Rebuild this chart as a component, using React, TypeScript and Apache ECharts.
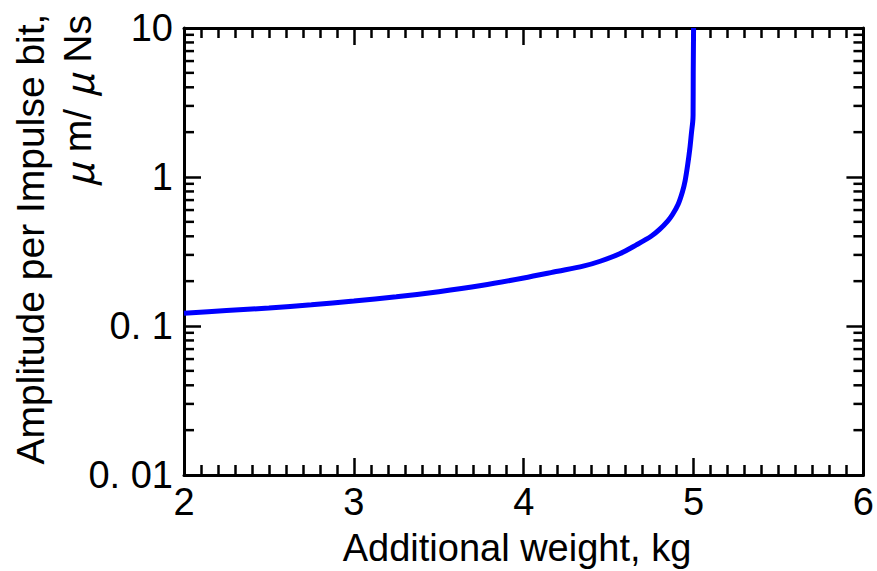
import React, { useEffect, useRef } from "react";
import * as echarts from "echarts";

const weights = [2.0, 2.25, 2.5, 2.75, 3.0, 3.25, 3.5, 3.75, 4.0, 4.2, 4.35, 4.45, 4.565, 4.663, 4.75, 4.8, 4.85, 4.876, 4.91, 4.935, 4.95, 4.965, 4.978, 4.988, 4.995, 4.997, 4.998, 5.0];
const amplitudes = [0.122, 0.127, 0.132, 0.139, 0.147, 0.157, 0.17, 0.187, 0.21, 0.233, 0.252, 0.272, 0.305, 0.35, 0.4, 0.445, 0.51, 0.56, 0.66, 0.8, 0.94, 1.2, 1.55, 2.0, 2.35, 2.6, 5, 10];
const yTickLabels: Record<string, string> = { "0.01": "0. 01", "0.1": "0. 1", "1": "1", "10": "10" };
const yMinorTicks = [0.02, 0.03, 0.04, 0.05, 0.06, 0.07, 0.08, 0.09, 0.2, 0.3, 0.4, 0.5, 0.6, 0.7, 0.8, 0.9, 2, 3, 4, 5, 6, 7, 8, 9];
const xTitle = "Additional weight, kg";
const yTitle1 = "Amplitude per Impulse bit,";
const yTitle2 = "{mu|μ} m/ {mu|μ} Ns";

export default function App() {
  const ref = useRef<HTMLDivElement>(null);
  useEffect(() => {
    const chart = echarts.init(ref.current!, null, { renderer: "svg" });
    const tickFont = "'Liberation Sans', sans-serif";
    const titleFont = "'Liberation Sans', sans-serif";
    const axisLine = { show: true, onZero: false, lineStyle: { color: "#000", width: 3 } };
    const baseX = {
      type: "value" as const,
      min: 2,
      max: 6,
      interval: 1,
      axisLine,
      splitLine: { show: false },
      axisTick: { show: true, inside: true, length: 17, lineStyle: { color: "#000", width: 2.5 } },
      minorTick: { show: true, splitNumber: 10, length: 10, lineStyle: { color: "#000", width: 2.5 } },
    };
    const baseY = {
      type: "log" as const,
      logBase: 10,
      min: 0.01,
      max: 10,
      axisLine,
      splitLine: { show: false },
      axisTick: { show: true, inside: true, length: 17, lineStyle: { color: "#000", width: 2.5 } },
    };
    chart.setOption({
      animation: false,
      backgroundColor: "#fff",
      grid: { left: 184, right: 13, top: 28, bottom: 96, containLabel: false },
      xAxis: [
        {
          ...baseX,
          position: "bottom",
          axisLabel: { show: true, margin: 8, color: "#000", fontSize: 38, fontFamily: tickFont },
        },
        { ...baseX, position: "top", axisLabel: { show: false } },
      ],
      yAxis: [
        {
          ...baseY,
          position: "left",
          axisLabel: {
            show: true,
            margin: 11,
            color: "#000",
            fontSize: 38,
            fontFamily: tickFont,
            formatter: (v: number) => yTickLabels[String(v)] ?? String(v),
          },
        },
        { ...baseY, position: "right", axisLabel: { show: false } },
      ],
      series: [
        {
          type: "custom",
          xAxisIndex: 0,
          yAxisIndex: 0,
          clip: false,
          silent: true,
          data: yMinorTicks.map((v) => [2, v]),
          renderItem: (params: any, api: any) => {
            const v = api.value(1);
            const l = api.coord([2, v]);
            const r = api.coord([6, v]);
            const style = { stroke: "#000", lineWidth: 2.5 };
            return {
              type: "group",
              children: [
                { type: "line", shape: { x1: l[0], y1: l[1], x2: l[0] + 10, y2: l[1] }, style },
                { type: "line", shape: { x1: r[0], y1: r[1], x2: r[0] - 10, y2: r[1] }, style },
              ],
            };
          },
        },
        {
          type: "line",
          xAxisIndex: 0,
          yAxisIndex: 0,
          data: weights.map((w, i) => [w, amplitudes[i]]),
          showSymbol: false,
          symbol: "none",
          smooth: 0.3,
          lineStyle: { color: "#0000ff", width: 5 },
          z: 5,
        },
      ],
      graphic: [
        {
          type: "text",
          x: 517,
          y: 548,
          style: { text: xTitle, fontSize: 38, fontFamily: titleFont, fill: "#000", align: "center", verticalAlign: "middle" },
        },
        {
          type: "text",
          x: 30,
          y: 239,
          rotation: Math.PI / 2,
          style: { text: yTitle1, fontSize: 39, fontFamily: titleFont, fill: "#000", align: "center", verticalAlign: "middle" },
        },
        {
          type: "text",
          x: 77,
          y: 15,
          rotation: Math.PI / 2,
          style: {
            text: yTitle2,
            fontSize: 39,
            fontFamily: titleFont,
            fill: "#000",
            align: "right",
            verticalAlign: "middle",
            rich: {
              mu: { fontSize: 39, fontFamily: "'Noto Sans CJK JP', sans-serif", fontStyle: "italic", fill: "#000" },
            },
          },
        },
      ],
    });
    return () => chart.dispose();
  }, []);
  return <div ref={ref} style={{ width: 877, height: 571, position: "absolute", left: 0, top: 0 }} />;
}
